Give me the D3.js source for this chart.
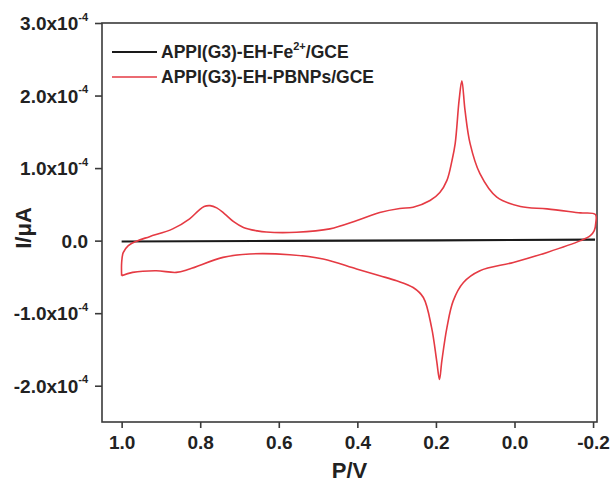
<!DOCTYPE html>
<html><head><meta charset="utf-8">
<script src="https://cdn.jsdelivr.net/npm/d3@7"></script>
<style>body{margin:0;background:#fff}</style>
</head><body>
<svg id="c" width="615" height="484"></svg>
<script>
// ---- data ----
const potentialPBNPs = [1.000,1.000,0.996,0.983,0.962,0.929,0.870,0.827,0.805,0.790,0.775,0.758,0.738,0.715,0.690,0.655,0.632,0.555,0.470,0.401,0.343,0.292,0.258,0.215,0.190,0.172,0.159,0.151,0.141,0.134,0.126,0.113,0.088,0.045,-0.015,-0.083,-0.168,-0.206,-0.207,-0.203,-0.193,-0.168,-0.083,0.003,0.088,0.130,0.156,0.172,0.185,0.191,0.198,0.211,0.232,0.258,0.300,0.343,0.402,0.487,0.572,0.674,0.742,0.827,0.861,0.912,0.972,1.000];
const currentPBNPs = [-0.484,-0.304,-0.166,-0.069,-0.007,0.055,0.162,0.300,0.410,0.470,0.482,0.452,0.370,0.262,0.182,0.135,0.118,0.115,0.162,0.277,0.387,0.443,0.461,0.553,0.664,0.830,1.107,1.337,1.936,2.203,1.798,1.337,0.923,0.599,0.470,0.438,0.383,0.360,0.249,0.138,0.069,0.000,-0.162,-0.300,-0.415,-0.577,-0.830,-1.199,-1.660,-1.913,-1.660,-1.199,-0.784,-0.646,-0.553,-0.484,-0.391,-0.253,-0.194,-0.184,-0.231,-0.391,-0.438,-0.415,-0.438,-0.484]; // x1e-4
const potentialFe = [1.000,0.600,0.200,-0.205];
const currentFe = [-0.012,-0.004,0.004,0.014]; // x1e-4
const xTicks = [1.0,0.8,0.6,0.4,0.2,0.0,-0.2];
const xTickLabels = ["1.0","0.8","0.6","0.4","0.2","0.0","-0.2"];
const yTicks = [-2,-1,0,1,2,3]; // x1e-4
const yTickMantissa = ["-2.0x10","-1.0x10","0.0","1.0x10","2.0x10","3.0x10"];
const yTickExponent = ["-4","-4","","-4","-4","-4"];
const legendBase = ["APPI(G3)-EH-Fe","APPI(G3)-EH-PBNPs/GCE"];
const legendSup = ["2+",""];
const legendTail = ["/GCE",""];
const seriesColors = ["#1a1a1a","#e53a43"];
const xTitle = "P/V", yTitle = "I/\u03bcA";

// ---- layout ----
const svg = d3.select("#c");
const L=102, R=597, T=23, B=422;
const x = d3.scaleLinear().domain([1.05,-0.21]).range([L,R]);
const y = d3.scaleLinear().domain([-2.5,3.0]).range([B,T]);
const font = "'Liberation Sans', Arial, sans-serif";

// frame
svg.append("rect").attr("x",L).attr("y",T).attr("width",R-L).attr("height",B-T)
  .attr("fill","none").attr("stroke","#3a3a3a").attr("stroke-width",1.6);

// x axis
const gx = svg.append("g").attr("transform",`translate(0,${B})`)
  .call(d3.axisBottom(x).tickValues(xTicks).tickSize(6).tickPadding(8)
    .tickFormat((d,i)=>xTickLabels[i]));
gx.select(".domain").remove();
gx.selectAll("line").attr("stroke","#3a3a3a").attr("stroke-width",1.6);
gx.selectAll("text").attr("font-family",font).attr("font-weight","bold")
  .attr("font-size",19).attr("fill","#222");

// y axis
const gy = svg.append("g").attr("transform",`translate(${L},0)`)
  .call(d3.axisLeft(y).tickValues(yTicks).tickSize(7).tickPadding(7).tickFormat(""));
gy.select(".domain").remove();
gy.selectAll("line").attr("stroke","#3a3a3a").attr("stroke-width",1.6);
gy.selectAll(".tick").each(function(d,i){
  const t = d3.select(this).append("text").attr("x",-14).attr("y",0)
    .attr("text-anchor","end").attr("font-family",font).attr("font-weight","bold")
    .attr("fill","#222");
  t.append("tspan").attr("dy","6.5").attr("font-size",19).text(yTickMantissa[i]);
  if (yTickExponent[i]) t.append("tspan").attr("dy","-9.5").attr("font-size",11).text(yTickExponent[i]);
});

// axis titles
svg.append("text").attr("x",(L+R)/2).attr("y",478).attr("text-anchor","middle")
  .attr("font-family",font).attr("font-weight","bold").attr("font-size",22).attr("fill","#222").text(xTitle);
svg.append("text").attr("transform","translate(31,228) rotate(-90)").attr("text-anchor","middle")
  .attr("font-family",font).attr("font-weight","bold").attr("font-size",22).attr("fill","#222").text(yTitle);

// series
const ptsPB = potentialPBNPs.map((v,i)=>[v,currentPBNPs[i]]);
const ptsFe = potentialFe.map((v,i)=>[v,currentFe[i]]);
const line = d3.line().x(d=>x(d[0])).y(d=>y(d[1])).curve(d3.curveCatmullRom.alpha(0.5));
svg.append("path").attr("d",d3.line().x(d=>x(d[0])).y(d=>y(d[1]))(ptsFe))
  .attr("fill","none").attr("stroke",seriesColors[0]).attr("stroke-width",2.2);
svg.append("path").attr("d",line(ptsPB))
  .attr("fill","none").attr("stroke",seriesColors[1]).attr("stroke-width",1.6)
  .attr("stroke-linejoin","round");

// legend
const legY = [52,77];
legendBase.forEach((name,i)=>{
  svg.append("line").attr("x1",112).attr("x2",157).attr("y1",legY[i]).attr("y2",legY[i])
    .attr("stroke",seriesColors[i]).attr("stroke-width",i===0?2:1.6);
  const t = svg.append("text").attr("x",161).attr("y",legY[i]+6)
    .attr("font-family",font).attr("font-weight","bold").attr("font-size",17.5).attr("fill","#222");
  t.append("tspan").text(name);
  if (legendSup[i]) {
    t.append("tspan").attr("dy",-8).attr("font-size",11).text(legendSup[i]);
    t.append("tspan").attr("dy",8).text(legendTail[i]);
  }
});
</script>
</body></html>
